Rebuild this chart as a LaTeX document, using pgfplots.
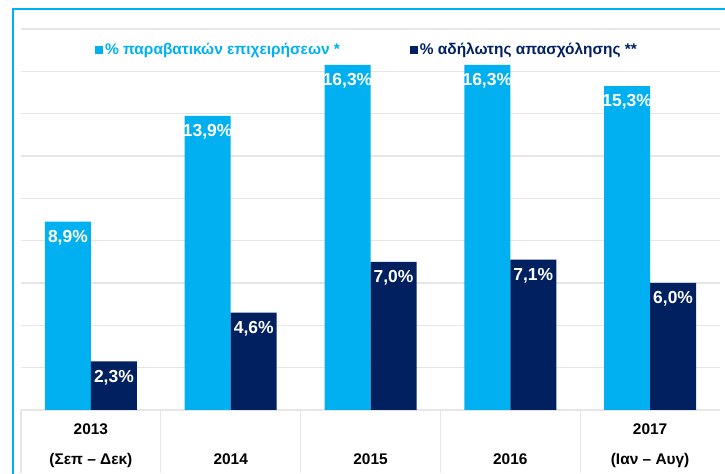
\documentclass[border=0pt]{standalone}
\usepackage{fontspec}
\setmainfont{Liberation Sans}
\usepackage{pgfplots}
\pgfplotsset{compat=1.18}
\definecolor{lightb}{HTML}{00B0F0}
\definecolor{navy}{HTML}{002060}
\definecolor{gridc}{HTML}{E6E6E6}
\begin{document}
\begin{tikzpicture}[x=1bp,y=1bp]
\useasboundingbox (0,0) rectangle (725,474);
\draw[lightb, line width=2bp] (13,-5) -- (13,465) -- (730,465);
\begin{axis}[
  at={(21bp,64bp)}, anchor=south west,
  scale only axis, width=699bp, height=381bp,
  ymin=0, ymax=18, xmin=-0.5, xmax=4.5,
  ytick={0,2,...,18}, yticklabels={},
  ymajorgrids, grid style={gridc, line width=1.2bp},
  axis line style={draw=none},
  major tick length=0pt,
  xtick={0,1,2,3,4},
  minor xtick={-0.5,0.5,1.5,2.5,3.5},
  minor tick length=63bp,
  tick align=outside, xtick pos=bottom, ytick pos=left,
  minor tick style={gridc, line width=1.2bp},
  xticklabels={{\strut 2013\\[11bp](Σεπ – Δεκ)},{\strut\\[11bp]2014},{\strut\\[11bp]2015},{\strut\\[11bp]2016},{\strut 2017\\[11bp](Ιαν – Αυγ)}},
  xticklabel style={align=center, font=\fontsize{15.5}{18.6}\selectfont\bfseries, text=black, anchor=north, yshift=-8bp},
  /pgf/number format/assume math mode=true,
  nodes near coords={\pgfmathprintnumber[fixed,fixed zerofill,precision=1,use comma]{\pgfplotspointmeta}\%},
  nodes near coords style={anchor=north, text=white, font=\fontsize{17.5}{19}\selectfont\bfseries, yshift=-5bp},
  legend style={at={(0.495,0.945)}, anchor=center, draw=none, fill=none, legend columns=2,
    font=\fontsize{15.5}{18}\selectfont\bfseries,
    /tikz/every even column/.append style={column sep=68bp}},
  clip=false,
]
\addplot[ybar, bar width=46bp, bar shift=-23bp, fill=lightb, draw=none,
  every node near coord/.append style={xshift=-23bp},
  legend image code/.code={\fill[lightb] (0bp,-4bp) rectangle (8bp,4bp);}]
  coordinates {(0,8.9) (1,13.9) (2,16.3) (3,16.3) (4,15.3)};
\addlegendentry{\textcolor{lightb}{\% παραβατικών επιχειρήσεων *}}
\addplot[ybar, bar width=46bp, bar shift=23bp, fill=navy, draw=none,
  every node near coord/.append style={xshift=23bp},
  legend image code/.code={\fill[navy] (0bp,-4bp) rectangle (8bp,4bp);}]
  coordinates {(0,2.3) (1,4.6) (2,7.0) (3,7.1) (4,6.0)};
\addlegendentry{\textcolor{navy}{\% αδήλωτης απασχόλησης **}}
\end{axis}
\end{tikzpicture}
\end{document}
